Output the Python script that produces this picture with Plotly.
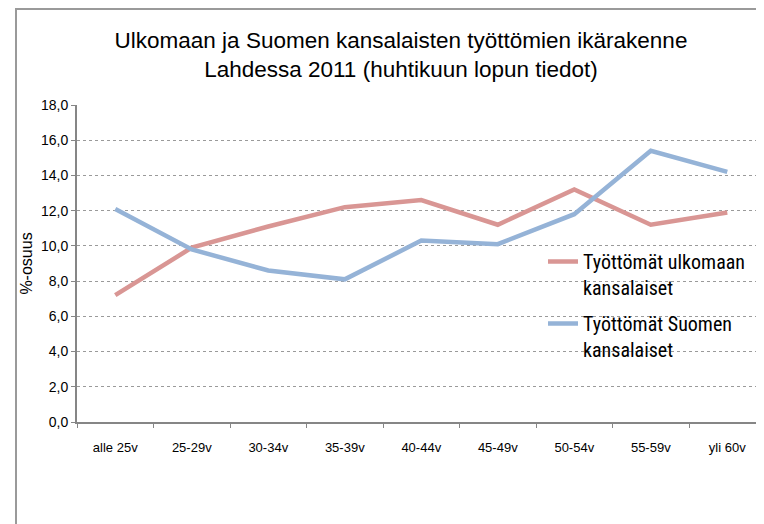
import plotly.graph_objects as go

categories = ["alle 25v", "25-29v", "30-34v", "35-39v", "40-44v", "45-49v", "50-54v", "55-59v", "yli 60v"]
ulkomaan = [7.2, 9.9, 11.1, 12.2, 12.6, 11.2, 13.2, 11.2, 11.9]
suomen = [12.1, 9.8, 8.6, 8.1, 10.3, 10.1, 11.8, 15.4, 14.2]
series_names = ["Työttömät ulkomaan<br>kansalaiset", "Työttömät Suomen<br>kansalaiset"]
title_text = "Ulkomaan ja Suomen kansalaisten työttömien ikärakenne<br>Lahdessa 2011 (huhtikuun lopun tiedot)"
y_title = "%-osuus"

# page has an 8px body margin; figure coordinates = page coordinates - 8
W, H = 756, 516
ML, MR, MT, MB = 69, 0, 97, 102
FONT = "Liberation Sans, Arial, sans-serif"
NARROW = "Liberation Sans Narrow, Roboto Condensed, Arial Narrow, Liberation Sans, sans-serif"

fig = go.Figure()
fig.add_trace(go.Scatter(x=categories, y=ulkomaan, mode="lines", name=series_names[0],
                         legendgroup="a", line=dict(color="#D99694", width=4.5)))
fig.add_trace(go.Scatter(x=categories, y=suomen, mode="lines", name=series_names[1],
                         legendgroup="b", line=dict(color="#95B3D7", width=4.5)))

pw = W - ML - MR
ph = H - MT - MB


def px_x(x):
    return (x - ML) / pw


def px_y(y):
    return (H - MB - y) / ph


fig.add_shape(type="rect", xref="paper", yref="paper", x0=px_x(8), x1=1.2, y0=-1.0, y1=px_y(1),
              line=dict(color="#9a9a9a", width=2), fillcolor="rgba(0,0,0,0)", layer="below")

fig.update_layout(
    width=W, height=H,
    margin=dict(l=ML, r=MR, t=MT, b=MB),
    paper_bgcolor="white", plot_bgcolor="white",
    separators=", ",
    font=dict(family=FONT, color="#000000"),
    title=dict(text=title_text, x=px_x(393), xref="paper", xanchor="center",
               y=(H - 40) / H, yanchor="middle",
               font=dict(size=22.5, family=FONT, color="#000000")),
    showlegend=True,
    legend=dict(x=px_x(535), y=px_y(234), xanchor="left", yanchor="top",
                font=dict(size=20, family=NARROW, color="#000000"),
                bgcolor="rgba(0,0,0,0)", valign="top", tracegroupgap=7,
                itemwidth=30),
    xaxis=dict(type="category", range=[-0.5, 8.48], showgrid=False,
               showline=True, linecolor="#868686", linewidth=2,
               ticks="outside", tickson="boundaries", ticklen=4, tickcolor="#868686",
               tickfont=dict(size=13, family=FONT), ticklabelstandoff=12),
    yaxis=dict(range=[0, 18], dtick=2, tickformat=".1f",
               showgrid=True, gridcolor="#9a9a9a", griddash="dot", gridwidth=1,
               showline=True, linecolor="#868686", linewidth=2,
               ticks="outside", ticklen=4, tickcolor="#868686",
               tickfont=dict(size=14, family=FONT), zeroline=False,
               title=dict(text=y_title, font=dict(size=16, family=FONT), standoff=4)),
)

fig.write_html("out.html")
